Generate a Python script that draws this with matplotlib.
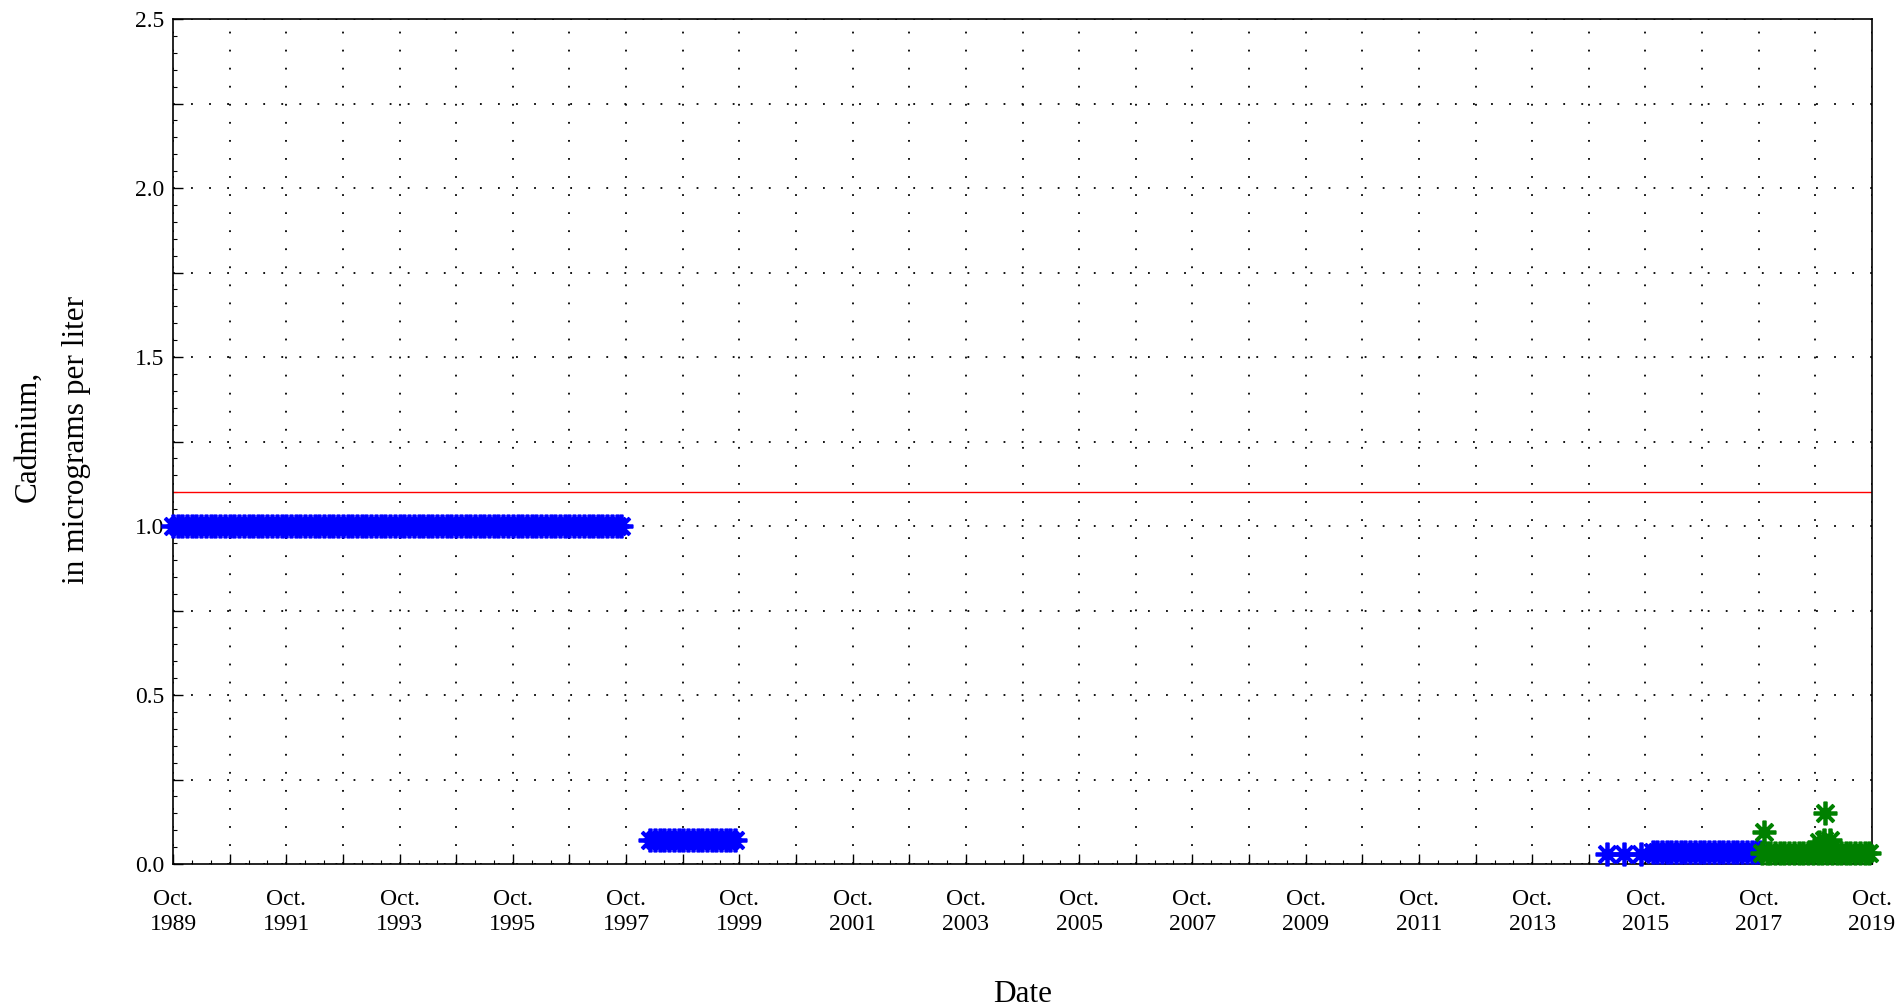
import matplotlib
matplotlib.use('Agg')
import matplotlib.pyplot as plt
import matplotlib.dates as mdates
from matplotlib.ticker import MultipleLocator, FuncFormatter
import pandas as pd
import datetime as dt

plt.rcParams['font.family'] = ['Liberation Serif', 'DejaVu Serif']

# ---------------- data ----------------
# Historical record (reported at 1.0 ug/L), Oct 1989 - Sep 1997
hist_dates = [
    '1989-10-01', '1989-11-01', '1989-12-01', '1990-01-01', '1990-02-01', '1990-03-01',
    '1990-04-01', '1990-05-01', '1990-06-01', '1990-07-01', '1990-08-01', '1990-09-01',
    '1990-10-01', '1990-11-01', '1990-12-01', '1991-01-01', '1991-02-01', '1991-03-01',
    '1991-04-01', '1991-05-01', '1991-06-01', '1991-07-01', '1991-08-01', '1991-09-01',
    '1991-10-01', '1991-11-01', '1991-12-01', '1992-01-01', '1992-02-01', '1992-03-01',
    '1992-04-01', '1992-05-01', '1992-06-01', '1992-07-01', '1992-08-01', '1992-09-01',
    '1992-10-01', '1992-11-01', '1992-12-01', '1993-01-01', '1993-02-01', '1993-03-01',
    '1993-04-01', '1993-05-01', '1993-06-01', '1993-07-01', '1993-08-01', '1993-09-01',
    '1993-10-01', '1993-11-01', '1993-12-01', '1994-01-01', '1994-02-01', '1994-03-01',
    '1994-04-01', '1994-05-01', '1994-06-01', '1994-07-01', '1994-08-01', '1994-09-01',
    '1994-10-01', '1994-11-01', '1994-12-01', '1995-01-01', '1995-02-01', '1995-03-01',
    '1995-04-01', '1995-05-01', '1995-06-01', '1995-07-01', '1995-08-01', '1995-09-01',
    '1995-10-01', '1995-11-01', '1995-12-01', '1996-01-01', '1996-02-01', '1996-03-01',
    '1996-04-01', '1996-05-01', '1996-06-01', '1996-07-01', '1996-08-01', '1996-09-01',
    '1996-10-01', '1996-11-01', '1996-12-01', '1997-01-01', '1997-02-01', '1997-03-01',
    '1997-04-01', '1997-05-01', '1997-06-01', '1997-07-01', '1997-08-01', '1997-09-01',
]
hist_cd = [
    1.0, 1.0, 1.0, 1.0, 1.0, 1.0, 1.0, 1.0, 1.0, 1.0, 1.0, 1.0,
    1.0, 1.0, 1.0, 1.0, 1.0, 1.0, 1.0, 1.0, 1.0, 1.0, 1.0, 1.0,
    1.0, 1.0, 1.0, 1.0, 1.0, 1.0, 1.0, 1.0, 1.0, 1.0, 1.0, 1.0,
    1.0, 1.0, 1.0, 1.0, 1.0, 1.0, 1.0, 1.0, 1.0, 1.0, 1.0, 1.0,
    1.0, 1.0, 1.0, 1.0, 1.0, 1.0, 1.0, 1.0, 1.0, 1.0, 1.0, 1.0,
    1.0, 1.0, 1.0, 1.0, 1.0, 1.0, 1.0, 1.0, 1.0, 1.0, 1.0, 1.0,
    1.0, 1.0, 1.0, 1.0, 1.0, 1.0, 1.0, 1.0, 1.0, 1.0, 1.0, 1.0,
    1.0, 1.0, 1.0, 1.0, 1.0, 1.0, 1.0, 1.0, 1.0, 1.0, 1.0, 1.0,
]

# 1998-1999 record
mid_dates = [
    '1998-03-05', '1998-04-05', '1998-05-05', '1998-06-05', '1998-07-05', '1998-08-05',
    '1998-09-05', '1998-10-05', '1998-11-05', '1998-12-05', '1999-01-05', '1999-02-05',
    '1999-03-05', '1999-04-05', '1999-05-05', '1999-06-05', '1999-07-05', '1999-08-05',
    '1999-09-05',
]
mid_cd = [
    0.07, 0.07, 0.07, 0.07, 0.07, 0.07, 0.07, 0.07, 0.07, 0.07, 0.07, 0.07,
    0.07, 0.07, 0.07, 0.07, 0.07, 0.07, 0.07,
]

# 2015-2017 record (blue)
recent_dates = [
    '2015-01-28', '2015-05-18', '2015-09-03',
    '2015-11-20', '2015-12-15', '2016-01-15', '2016-02-15', '2016-03-15', '2016-04-15',
    '2016-05-15', '2016-06-15', '2016-07-15', '2016-08-15', '2016-09-15', '2016-10-15',
    '2016-11-15', '2016-12-15', '2017-01-15', '2017-02-15', '2017-03-15', '2017-04-15',
    '2017-05-15', '2017-06-15', '2017-07-15', '2017-08-15', '2017-09-15', '2017-10-10',
]
recent_cd = [
    0.03, 0.03, 0.03,
    0.035, 0.035, 0.035, 0.035, 0.035, 0.035,
    0.035, 0.035, 0.035, 0.035, 0.035, 0.035,
    0.035, 0.035, 0.035, 0.035, 0.035, 0.035,
    0.035, 0.035, 0.035, 0.035, 0.035, 0.035,
]

# 2017-2019 record (green)
green_dates = [
    '2017-10-20', '2017-11-03', '2017-11-20', '2017-12-15', '2018-01-15', '2018-02-15',
    '2018-03-15', '2018-04-15', '2018-05-15', '2018-06-15', '2018-07-15', '2018-08-15',
    '2018-09-15', '2018-10-15', '2018-10-22', '2018-11-15', '2018-11-26', '2018-12-05',
    '2018-12-15', '2019-01-06', '2019-01-15', '2019-02-15', '2019-03-15', '2019-04-15',
    '2019-05-15', '2019-06-15', '2019-07-15', '2019-08-15', '2019-09-10',
]
green_cd = [
    0.033, 0.095, 0.033, 0.033, 0.033, 0.033,
    0.033, 0.033, 0.033, 0.033, 0.033, 0.033,
    0.033, 0.033, 0.065, 0.033, 0.07, 0.15,
    0.033, 0.07, 0.033, 0.033, 0.033, 0.033,
    0.033, 0.033, 0.033, 0.033, 0.033,
]

reference_level = 1.1
y_ticks = [0.0, 0.5, 1.0, 1.5, 2.0, 2.5]
x_label = 'Date'
y_label_lines = ['Cadmium,', 'in micrograms per liter']

# ---------------- figure ----------------
W, H = 1900, 1006
fig = plt.figure(figsize=(W / 100, H / 100), dpi=100)
L, R, T, B = 173, 1872, 19, 864
ax = fig.add_axes([L / W, 1 - B / H, (R - L) / W, (B - T) / H])

ast = (8, 2, 0)
ms, mew = 17, 2.7
for d, v, c in [(hist_dates, hist_cd, 'blue'), (mid_dates, mid_cd, 'blue'),
                (recent_dates, recent_cd, 'blue'), (green_dates, green_cd, 'green')]:
    ax.plot(pd.to_datetime(d), v, linestyle='none', marker=ast, ms=ms, mew=mew,
            color=c, clip_on=False, zorder=3)

ax.axhline(reference_level, color='red', lw=1.0, zorder=2)

ax.set_xlim(dt.datetime(1989, 10, 1), dt.datetime(2019, 10, 1))
ax.set_ylim(0, 2.5)

ax.xaxis.set_major_locator(mdates.YearLocator(1, month=10, day=1))
def xfmt(x, pos):
    d = mdates.num2date(x)
    return 'Oct.\n%d' % d.year if (d.year - 1989) % 2 == 0 else ''
ax.xaxis.set_major_formatter(FuncFormatter(xfmt))
ax.xaxis.set_minor_locator(mdates.MonthLocator(bymonth=[2, 6]))

ax.yaxis.set_major_locator(MultipleLocator(0.25))
def yfmt(y, pos):
    return '%.1f' % y if any(abs(y - t) < 1e-9 for t in y_ticks) else ''
ax.yaxis.set_major_formatter(FuncFormatter(yfmt))
ax.yaxis.set_minor_locator(MultipleLocator(0.05))

ax.tick_params(axis='x', which='major', direction='in', length=7, width=1.0,
               labelsize=17, pad=18)
ax.tick_params(axis='y', which='major', direction='in', length=7, width=1.0,
               labelsize=17, pad=6)
ax.tick_params(which='minor', direction='in', length=3, width=0.8)
for lab in ax.get_xticklabels():
    lab.set_linespacing(1.25)

ax.grid(True, which='major', color='black', linestyle=(0, (1.0, 9)), lw=1.3)
for s in ax.spines.values():
    s.set_linewidth(1.2)

fig.text((L + R) / 2 / W, 1 - 995 / H, x_label, ha='center', va='center', fontsize=22.5)
fig.text(28 / W, 1 - 436 / H, y_label_lines[0], rotation=90, ha='center',
         va='center', fontsize=22.5)
fig.text(77 / W, 1 - 440 / H, y_label_lines[1], rotation=90, ha='center',
         va='center', fontsize=22.5)

fig.savefig('out.png', dpi=100)
